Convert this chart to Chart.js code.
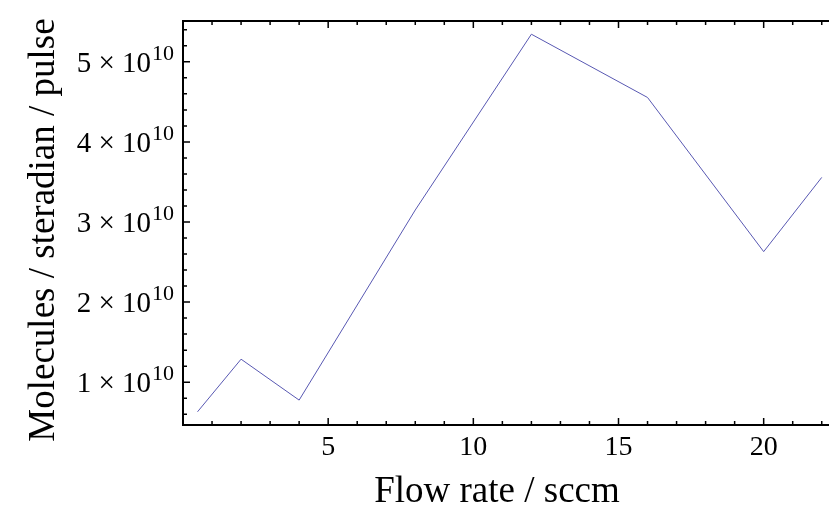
<!DOCTYPE html>
<html>
<head>
<meta charset="utf-8">
<title>Flow rate</title>
<script src="https://cdn.jsdelivr.net/npm/chart.js@4.4.1/dist/chart.umd.min.js"></script>
<style>
  html, body { margin: 0; padding: 0; background: #fff; overflow: hidden; }
  #wrap { width: 829px; height: 505px; }
</style>
</head>
<body>
<div id="wrap"><canvas id="chart" width="829" height="505"></canvas></div>
<script>
// measured beam intensity vs. gas flow
const flowRate = [0.5, 2, 4, 8, 12, 16, 20, 22];
const molecules = [0.63e10, 1.287e10, 0.776e10, 3.15e10, 5.345e10, 4.555e10, 2.63e10, 3.557e10];

const xTickLabels = ["5", "10", "15", "20"];
const yTickMantissa = ["1", "2", "3", "4", "5"];
const xTitle = "Flow rate / sccm";
const yTitle = "Molecules / steradian / pulse";

const serif = "'Liberation Serif', 'Times New Roman', serif";

// Mathematica-style frame: inward ticks on left, bottom and top, labels with superscript exponents
const frameTicks = {
    id: "frameTicks",
    afterDraw(chart) {
        const ctx = chart.ctx;
        const area = chart.chartArea;
        const xs = chart.scales.x;
        const ys = chart.scales.y;
        ctx.save();
        ctx.strokeStyle = "#000";
        ctx.fillStyle = "#000";

        // frame lines
        ctx.lineWidth = 2;
        ctx.beginPath();
        ctx.moveTo(area.right, area.top);
        ctx.lineTo(area.left, area.top);
        ctx.lineTo(area.left, area.bottom);
        ctx.lineTo(area.right, area.bottom);
        ctx.stroke();

        // x ticks, every 1 unit, major every 5
        ctx.lineWidth = 1.5;
        ctx.beginPath();
        for (let v = 1; v <= Math.floor(xs.max); v++) {
            const px = xs.getPixelForValue(v);
            const len = v % 5 === 0 ? 7 : 4;
            ctx.moveTo(px, area.bottom);
            ctx.lineTo(px, area.bottom - len);
            ctx.moveTo(px, area.top);
            ctx.lineTo(px, area.top + len);
        }
        // y ticks, every 0.2e10, major every 1e10
        for (let k = 3; k * 0.2e10 < ys.max; k++) {
            const py = ys.getPixelForValue(k * 0.2e10);
            const len = k % 5 === 0 ? 7 : 4;
            ctx.moveTo(area.left, py);
            ctx.lineTo(area.left + len, py);
        }
        ctx.stroke();

        // x tick labels
        ctx.font = "28px " + serif;
        ctx.textAlign = "center";
        ctx.textBaseline = "alphabetic";
        xTickLabels.forEach(t => {
            const px = xs.getPixelForValue(Number(t));
            ctx.fillText(t, px, area.bottom + 30);
        });

        // y tick labels  n × 10^10
        const right = area.left - 9;
        yTickMantissa.forEach((m, i) => {
            const py = ys.getPixelForValue((i + 1) * 1e10);
            ctx.textAlign = "right";
            ctx.font = "22px " + serif;
            const supW = ctx.measureText("10").width;
            ctx.fillText("10", right, py - 1.7);
            ctx.font = "29px " + serif;
            ctx.fillText(m + " \u00d7 10", right - supW - 1, py + 10);
        });

        // axis titles
        ctx.font = "37px " + serif;
        ctx.textAlign = "center";
        ctx.fillText(xTitle, 497, 502);
        ctx.translate(44, 230);
        ctx.rotate(-Math.PI / 2);
        ctx.textBaseline = "middle";
        ctx.fillText(yTitle, 0, 0);
        ctx.restore();
    }
};

new Chart(document.getElementById("chart"), {
    type: "line",
    data: {
        datasets: [{
            data: flowRate.map((x, i) => ({ x: x, y: molecules[i] })),
            borderColor: "rgb(88, 88, 178)",
            borderWidth: 1,
            pointRadius: 0,
            tension: 0,
            fill: false
        }]
    },
    options: {
        responsive: false,
        animation: false,
        devicePixelRatio: 1,
        layout: { padding: { top: 21, right: 0, bottom: 0, left: 0 } },
        plugins: { legend: { display: false }, tooltip: { enabled: false } },
        scales: {
            x: {
                type: "linear",
                min: 0,
                max: 22.25,
                grid: { display: false },
                border: { display: false },
                ticks: { display: false },
                afterFit(scale) { scale.height = 80; }
            },
            y: {
                type: "linear",
                min: 0.465e10,
                max: 5.51e10,
                grid: { display: false },
                border: { display: false },
                ticks: { display: false },
                afterFit(scale) { scale.width = 183; }
            }
        }
    },
    plugins: [frameTicks]
});
</script>
</body>
</html>
